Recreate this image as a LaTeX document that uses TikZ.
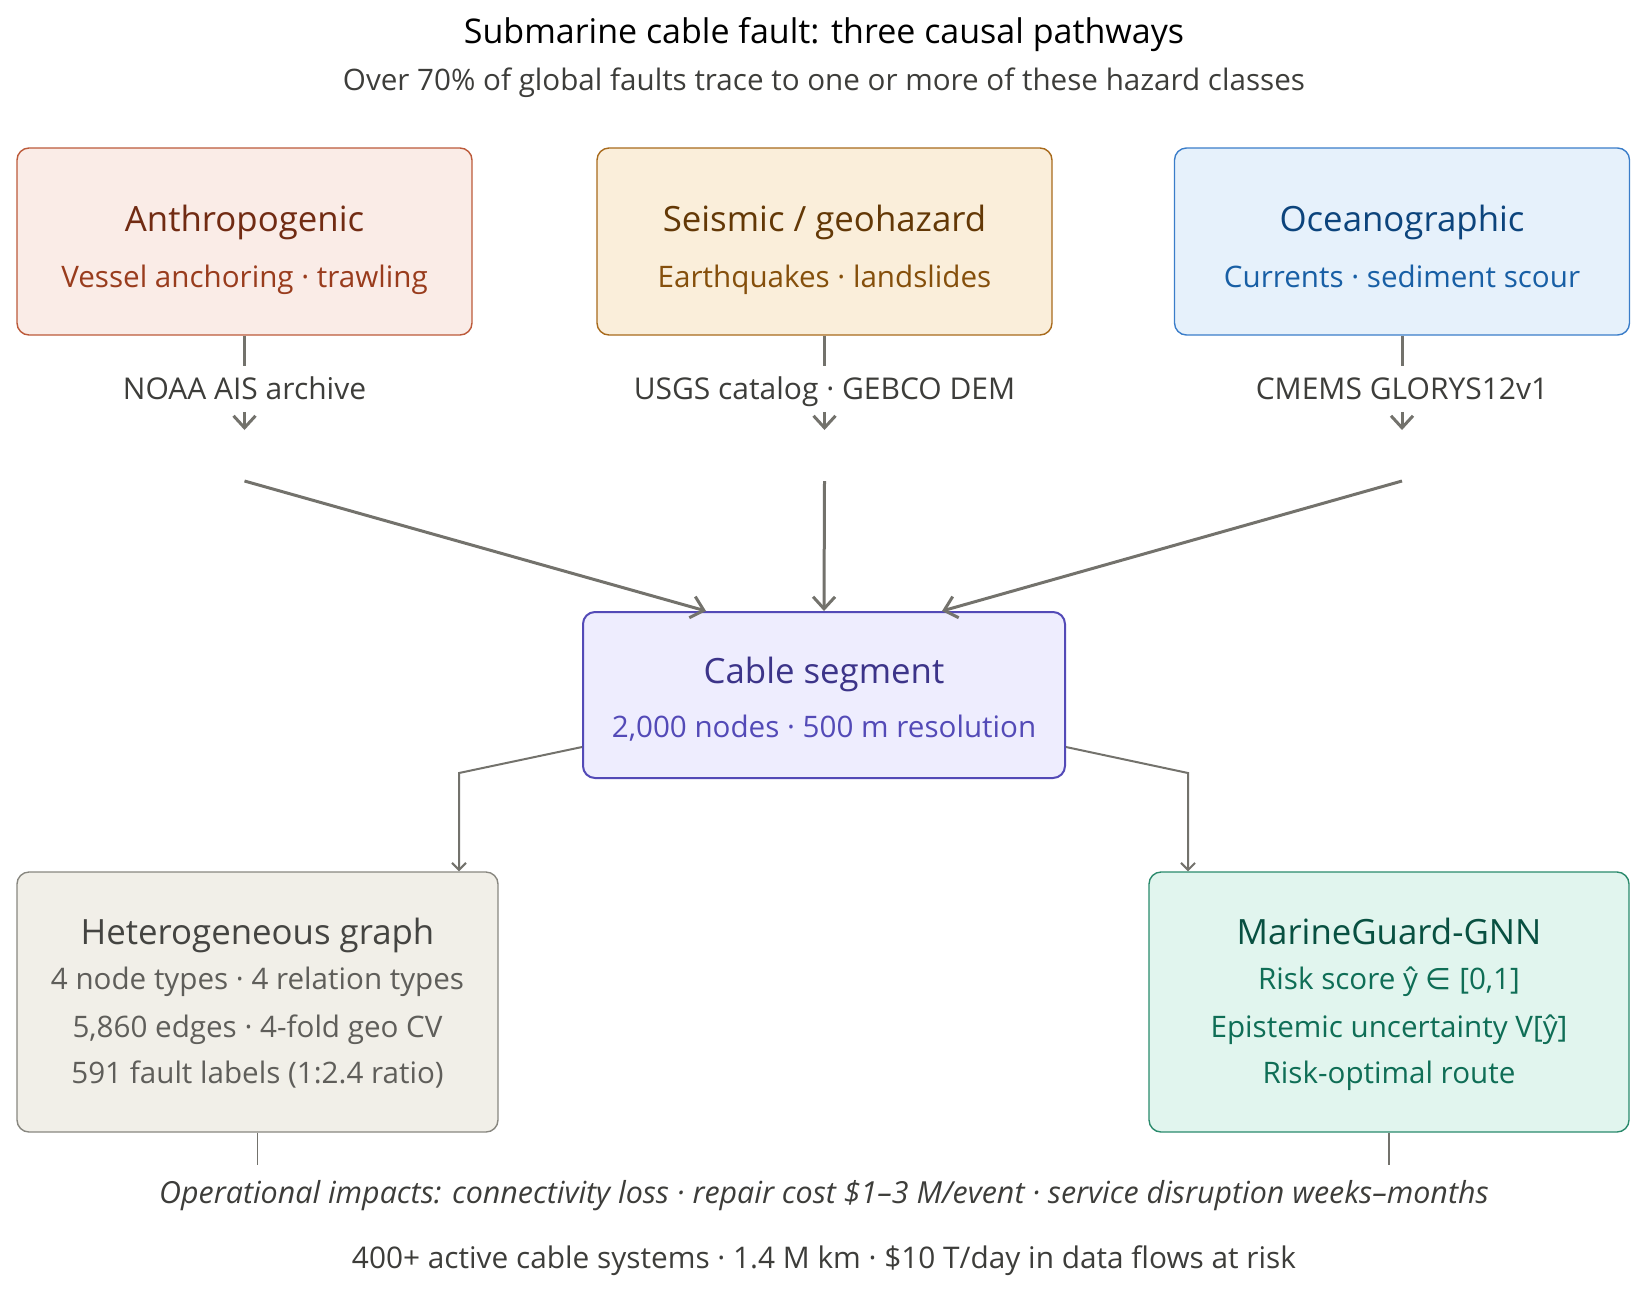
\documentclass[tikz,border=0pt]{standalone}
\usepackage{fontspec}
\setmainfont{Open Sans}
\newfontfamily\symfont{DejaVu Sans}
\usepackage{xcolor}
\usepackage{tikz}
\usetikzlibrary{arrows.meta,positioning,calc}

\definecolor{anthFill}{HTML}{FAECE7}
\definecolor{anthLine}{HTML}{BC5A3A}
\definecolor{anthHead}{HTML}{712B13}
\definecolor{anthSub}{HTML}{993C1D}
\definecolor{seisFill}{HTML}{FAEEDA}
\definecolor{seisLine}{HTML}{A86A1C}
\definecolor{seisHead}{HTML}{633806}
\definecolor{seisSub}{HTML}{854F0B}
\definecolor{oceaFill}{HTML}{E6F1FB}
\definecolor{oceaLine}{HTML}{3A7DC9}
\definecolor{oceaHead}{HTML}{0C447C}
\definecolor{oceaSub}{HTML}{185FA5}
\definecolor{cablFill}{HTML}{EEEDFE}
\definecolor{cablLine}{HTML}{534AB7}
\definecolor{cablHead}{HTML}{3C3489}
\definecolor{cablSub}{HTML}{534AB7}
\definecolor{grafFill}{HTML}{F1EFE8}
\definecolor{grafLine}{HTML}{888780}
\definecolor{grafHead}{HTML}{444441}
\definecolor{grafSub}{HTML}{5F5E5A}
\definecolor{mgnnFill}{HTML}{E1F5EE}
\definecolor{mgnnLine}{HTML}{2A8A6C}
\definecolor{mgnnHead}{HTML}{085041}
\definecolor{mgnnSub}{HTML}{0F6E56}
\definecolor{wire}{HTML}{73726C}
\definecolor{ink}{HTML}{3D3D3A}

\begin{document}
\begin{tikzpicture}[
    x=0.5pt, y=-0.5pt,
    box/.style={draw, rounded corners=6pt, line width=0.7pt, minimum width=227.5pt, minimum height=93.5pt, inner sep=0pt},
    txt/.style={inner sep=0pt, text height=1.05em, text depth=0pt},
    head/.style={txt, font=\fontsize{17.4}{20}\selectfont},
    sub/.style={txt, font=\fontsize{14.8}{18}\selectfont},
    src/.style={txt, font=\fontsize{15}{18}\selectfont, text=ink, inner ysep=6pt, inner xsep=2pt},
    stub/.style={wire, line width=1.5pt},
    arr/.style={-{Straight Barb[length=6pt, width=11pt]}, wire, line width=1.5pt},
    elb/.style={-{Straight Barb[length=3.5pt, width=7pt]}, wire, line width=1pt},
    tail/.style={wire, line width=0.7pt},
]
\useasboundingbox (0,0) rectangle (1648,1291);

% Title
\node[txt, font=\fontsize{17}{20}\selectfont, text=black] (title) at (824,33) {Submarine cable fault: three causal pathways};
\node[txt, font=\fontsize{14.8}{18}\selectfont, text=ink] (subtitle) at (824,80) {Over 70\% of global faults trace to one or more of these hazard classes};

% Hazard classes
\node[box, fill=anthFill, draw=anthLine] (anth) at (244.5,241.5) {};
\node[box, fill=seisFill, draw=seisLine] (seis) at (824.5,241.5) {};
\node[box, fill=oceaFill, draw=oceaLine] (ocea) at (1402,241.5) {};

\node[head, text=anthHead] (anthT) at (244.5,221) {Anthropogenic};
\node[sub, text=anthSub] (anthS) at (244.5,276.5) {Vessel anchoring · trawling};
\node[head, text=seisHead] (seisT) at (824.5,221) {Seismic / geohazard};
\node[sub, text=seisSub] (seisS) at (824.5,276.5) {Earthquakes · landslides};
\node[head, text=oceaHead] (oceaT) at (1402,221) {Oceanographic};
\node[sub, text=oceaSub] (oceaS) at (1402,276.5) {Currents · sediment scour};

% Data sources
\node[src] (anthD) at (244.5,389) {NOAA AIS archive};
\node[src] (seisD) at (824.5,389) {USGS catalog · GEBCO DEM};
\node[src] (oceaD) at (1402,389) {CMEMS GLORYS12v1};

\coordinate (anthA) at (244.5,430);
\coordinate (seisA) at (824.5,430);
\coordinate (oceaA) at (1402,430);
\coordinate (anthB) at (244.5,481);
\coordinate (seisB) at (824.5,481);
\coordinate (oceaB) at (1402,481);

\draw[stub] (anth.south) -- (anthD.north);
\draw[stub] (seis.south) -- (seisD.north);
\draw[stub] (ocea.south) -- (oceaD.north);
\draw[arr] (anthD.south) -- (anthA);
\draw[arr] (seisD.south) -- (seisA);
\draw[arr] (oceaD.south) -- (oceaA);

% Cable segment
\node[box, fill=cablFill, draw=cablLine, line width=1pt, minimum width=241pt, minimum height=83pt] (cabl) at (824,695) {};
\node[head, text=cablHead] (cablT) at (824,673) {Cable segment};
\node[sub, text=cablSub] (cablS) at (824,727) {2,000 nodes · 500 m resolution};

% Edges: sources -> cable
\draw[arr] (anthB) -- ([xshift=-59pt]cabl.north);
\draw[arr] (seisB) -- (cabl.north);
\draw[arr] (oceaB) -- ([xshift=59pt]cabl.north);

% Outputs
\node[box, fill=grafFill, draw=grafLine, minimum width=240.5pt, minimum height=130pt] (graf) at (257.5,1002) {};
\node[box, fill=mgnnFill, draw=mgnnLine, minimum width=240pt, minimum height=130pt] (mgnn) at (1389,1002) {};

\node[head, text=grafHead] (grafT) at (257.5,934) {Heterogeneous graph};
\node[sub, text=grafSub] (grafS1) at (257.5,979) {4 node types · 4 relation types};
\node[sub, text=grafSub] (grafS2) at (257.5,1027) {5,860 edges · 4-fold geo CV};
\node[sub, text=grafSub] (grafS3) at (257.5,1073) {591 fault labels (1:2.4 ratio)};

\node[head, text=mgnnHead] (mgnnT) at (1389,934) {MarineGuard-GNN};
\node[sub, text=mgnnSub] (mgnnS1) at (1389,979) {Risk score ŷ {\symfont ∈} [0,1]};
\node[sub, text=mgnnSub] (mgnnS2) at (1389,1027) {Epistemic uncertainty V[ŷ]};
\node[sub, text=mgnnSub] (mgnnS3) at (1389,1073) {Risk-optimal route};

% Edges: cable -> outputs (elbows)
\coordinate (bendL) at (459,773);
\coordinate (bendR) at (1188,773);
\draw[elb] ([yshift=-26pt]cabl.west) -- (bendL) -- ([xshift=100.75pt]graf.north);
\draw[elb] ([yshift=-26pt]cabl.east) -- (bendR) -- ([xshift=-100.5pt]mgnn.north);

% Impacts
\coordinate (grafE) at (257.5,1165);
\coordinate (mgnnE) at (1389,1165);
\draw[tail] (graf.south) -- (grafE);
\draw[tail] (mgnn.south) -- (mgnnE);

\node[txt, font=\fontsize{15.2}{18}\selectfont\itshape, text=ink] (impact) at (824,1193) {Operational impacts: connectivity loss · repair cost \$1–3 M/event · service disruption weeks–months};
\node[txt, font=\fontsize{14.9}{18}\selectfont, text=ink] (scale) at (824,1258) {400+ active cable systems · 1.4 M km · \$10 T/day in data flows at risk};
\end{tikzpicture}
\end{document}
